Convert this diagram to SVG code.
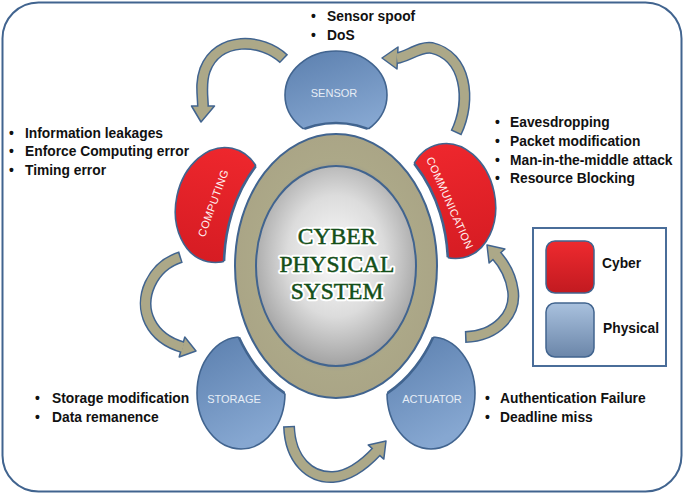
<svg xmlns="http://www.w3.org/2000/svg" width="685" height="496" viewBox="0 0 685 496">
<defs>
<style>
.t{font-family:"Liberation Sans",Arial,sans-serif;font-weight:bold;font-size:13.8px;fill:#111}
.lbl{font-family:"Liberation Sans",Arial,sans-serif;font-size:11px;fill:#e6edf6;text-anchor:middle}
.rl{font-family:"Liberation Sans",Arial,sans-serif;font-size:11px;fill:#fff3f3;text-anchor:middle;letter-spacing:0.4px}
.cpsb{font-family:"Liberation Serif","Times New Roman",serif;font-size:23.5px;fill:#fff;stroke:#fff;stroke-width:4.5;stroke-linejoin:round;text-anchor:middle}
.cps{font-family:"Liberation Serif","Times New Roman",serif;font-size:23.5px;fill:#144f19;stroke:#144f19;stroke-width:0.5;text-anchor:middle}
.so{fill:none;stroke:#41648f;stroke-width:12}
.si{fill:none;stroke:#aca888;stroke-width:9;stroke-dasharray:0 1.5 2000}
.hd{fill:#aca888;stroke:#41648f;stroke-width:1.5;stroke-linejoin:round}
.bn{fill:url(#gBlue);stroke:#41648f;stroke-width:1.6}
.rn{fill:url(#gRed);stroke:#41648f;stroke-width:1.6}
.cut{fill:none;stroke:#41648f;stroke-width:2.6}
</style>
<linearGradient id="gBlue" x1="0" y1="0" x2="0.4" y2="1"><stop offset="0" stop-color="#5b7fae"/><stop offset="1" stop-color="#86a7d1"/></linearGradient>
<linearGradient id="gRed" x1="0" y1="0" x2="0" y2="1"><stop offset="0" stop-color="#ee272d"/><stop offset="1" stop-color="#d61c23"/></linearGradient>
<linearGradient id="gLegR" x1="0" y1="0" x2="0" y2="1"><stop offset="0" stop-color="#ee2a2f"/><stop offset="1" stop-color="#c21a20"/></linearGradient>
<linearGradient id="gLegB" x1="0" y1="0" x2="0" y2="1"><stop offset="0" stop-color="#a9c1de"/><stop offset="1" stop-color="#6b86a9"/></linearGradient>
<radialGradient id="gCore" cx="0.5" cy="0.45" r="0.55"><stop offset="0" stop-color="#fbfbfb"/><stop offset="0.55" stop-color="#dcdcdc"/><stop offset="1" stop-color="#a2a2a2"/></radialGradient>
<radialGradient id="gRing" cx="0.5" cy="0.5" r="0.5"><stop offset="0.72" stop-color="#9c9c90"/><stop offset="0.8" stop-color="#aca888"/><stop offset="1" stop-color="#aaa586"/></radialGradient>
<mask id="gap" maskUnits="userSpaceOnUse" x="0" y="0" width="685" height="496"><rect width="685" height="496" fill="#fff"/><ellipse cx="336" cy="266" rx="112" ry="143" fill="#000"/></mask>
<clipPath id="cSen"><ellipse cx="336" cy="95" rx="51" ry="44"/></clipPath>
<clipPath id="cCom"><ellipse cx="220" cy="205" rx="44" ry="58" transform="rotate(12 220 205)"/></clipPath>
<clipPath id="cCmm"><ellipse cx="451" cy="201" rx="44" ry="58" transform="rotate(-12 451 201)"/></clipPath>
<clipPath id="cSto"><ellipse cx="241" cy="393" rx="44" ry="56"/></clipPath>
<clipPath id="cAct"><ellipse cx="431" cy="393" rx="44" ry="56"/></clipPath>
</defs>

<rect x="2.5" y="2.5" width="679" height="489" rx="36" fill="#fff" stroke="#41648f" stroke-width="2"/>

<g id="connectors">
 <g id="arrow-sensor-computing">
  <path class="so" d="M284,59 C262,38 218,36 205,70 C200,84 203,96 203,108"/>
  <polygon class="hd" points="191.5,106 214.5,106 201,122"/>
  <path class="si" d="M284,59 C262,38 218,36 205,70 C200,84 203,96 203,108"/>
 </g>
 <g id="arrow-communication-sensor">
  <path class="so" d="M456,133 C472,100 466,56 432,48 C420,46 407,57 397,58"/>
  <polygon class="hd" points="398,47 397,69 382,58"/>
  <path class="si" d="M456,133 C472,100 466,56 432,48 C420,46 407,57 397,58"/>
 </g>
 <g id="arrow-computing-storage">
  <path class="so" d="M181,257 C152,266 138,298 150,322 C157,336 168,343 183,347.3"/>
  <polygon class="hd" points="184.8,337 179.2,357 196,351"/>
  <path class="si" d="M181,257 C152,266 138,298 150,322 C157,336 168,343 183,347.3"/>
 </g>
 <g id="arrow-actuator-communication">
  <path class="so" d="M465,337 C497,336 516,314 513,291 C511,276 505,265 496,255"/>
  <polygon class="hd" points="504.9,249 489.1,263 487,245"/>
  <path class="si" d="M465,337 C497,336 516,314 513,291 C511,276 505,265 496,255"/>
 </g>
 <g id="arrow-storage-actuator">
  <path class="so" d="M289,426 C290,460 310,478 333,477 C350,476 364,465 377,451"/>
  <polygon class="hd" points="383.8,459.1 368.2,444.9 386,441"/>
  <path class="si" d="M289,426 C290,460 310,478 333,477 C350,476 364,465 377,451"/>
 </g>
</g>

<g id="cps-core">
 <ellipse cx="336" cy="266" rx="101" ry="132" fill="url(#gRing)" stroke="#41648f" stroke-width="2"/>
 <ellipse cx="336" cy="266" rx="80" ry="100" fill="url(#gCore)" stroke="#41648f" stroke-width="2"/>
 <text class="cpsb" x="337" y="244">CYBER</text>
 <text class="cpsb" x="337" y="272">PHYSICAL</text>
 <text class="cpsb" x="337" y="299">SYSTEM</text>
 <text class="cps" x="337" y="244">CYBER</text>
 <text class="cps" x="337" y="272">PHYSICAL</text>
 <text class="cps" x="337" y="299">SYSTEM</text>
</g>

<g id="sensor">
 <g mask="url(#gap)"><ellipse class="bn" cx="336" cy="95" rx="51" ry="44"/></g>
 <g clip-path="url(#cSen)"><ellipse class="cut" cx="336" cy="266" rx="112" ry="143"/></g>
 <text class="lbl" x="334" y="97">SENSOR</text>
</g>

<g id="computing">
 <g mask="url(#gap)"><ellipse class="rn" cx="220" cy="205" rx="44" ry="58" transform="rotate(12 220 205)"/></g>
 <g clip-path="url(#cCom)"><ellipse class="cut" cx="336" cy="266" rx="112" ry="143"/></g>
 <text class="rl" transform="translate(213,203) rotate(-70)" y="4">COMPUTING</text>
</g>

<g id="communication">
 <g mask="url(#gap)"><ellipse class="rn" cx="451" cy="201" rx="44" ry="58" transform="rotate(-12 451 201)"/></g>
 <g clip-path="url(#cCmm)"><ellipse class="cut" cx="336" cy="266" rx="112" ry="143"/></g>
 <text class="rl" transform="translate(450,203) rotate(66)" y="4">COMMUNICATION</text>
</g>

<g id="storage">
 <g mask="url(#gap)"><ellipse class="bn" cx="241" cy="393" rx="44" ry="56"/></g>
 <g clip-path="url(#cSto)"><ellipse class="cut" cx="336" cy="266" rx="112" ry="143"/></g>
 <text class="lbl" x="234" y="403">STORAGE</text>
</g>

<g id="actuator">
 <g mask="url(#gap)"><ellipse class="bn" cx="431" cy="393" rx="44" ry="56"/></g>
 <g clip-path="url(#cAct)"><ellipse class="cut" cx="336" cy="266" rx="112" ry="143"/></g>
 <text class="lbl" x="432" y="403">ACTUATOR</text>
</g>

<g id="sensor-threats">
 <text class="t" x="311" y="21">•</text><text class="t" x="327" y="21">Sensor spoof</text>
 <text class="t" x="311" y="40">•</text><text class="t" x="327" y="40">DoS</text>
</g>
<g id="computing-threats">
 <text class="t" x="9" y="137.5">•</text><text class="t" x="25" y="137.5">Information leakages</text>
 <text class="t" x="9" y="156">•</text><text class="t" x="25" y="156">Enforce Computing error</text>
 <text class="t" x="9" y="174.5">•</text><text class="t" x="25" y="174.5">Timing error</text>
</g>
<g id="communication-threats">
 <text class="t" x="495" y="127">•</text><text class="t" x="510" y="127">Eavesdropping</text>
 <text class="t" x="495" y="146">•</text><text class="t" x="510" y="146">Packet modification</text>
 <text class="t" x="495" y="164.5">•</text><text class="t" x="510" y="164.5">Man-in-the-middle attack</text>
 <text class="t" x="495" y="183">•</text><text class="t" x="510" y="183">Resource Blocking</text>
</g>
<g id="storage-threats">
 <text class="t" x="35" y="403">•</text><text class="t" x="52" y="403">Storage modification</text>
 <text class="t" x="35" y="422">•</text><text class="t" x="52" y="422">Data remanence</text>
</g>
<g id="actuator-threats">
 <text class="t" x="485" y="403">•</text><text class="t" x="500" y="403">Authentication Failure</text>
 <text class="t" x="485" y="422">•</text><text class="t" x="500" y="422">Deadline miss</text>
</g>

<g id="legend">
 <rect x="533" y="228" width="133" height="138" fill="#fff" stroke="#4a6d99" stroke-width="2"/>
 <rect x="546" y="241" width="48" height="52" rx="9" fill="url(#gLegR)" stroke="#41648f" stroke-width="1.5"/>
 <rect x="546" y="303" width="48" height="54" rx="9" fill="url(#gLegB)" stroke="#41648f" stroke-width="1.5"/>
 <text class="t" x="602" y="268">Cyber</text>
 <text class="t" x="603" y="333">Physical</text>
</g>
</svg>
